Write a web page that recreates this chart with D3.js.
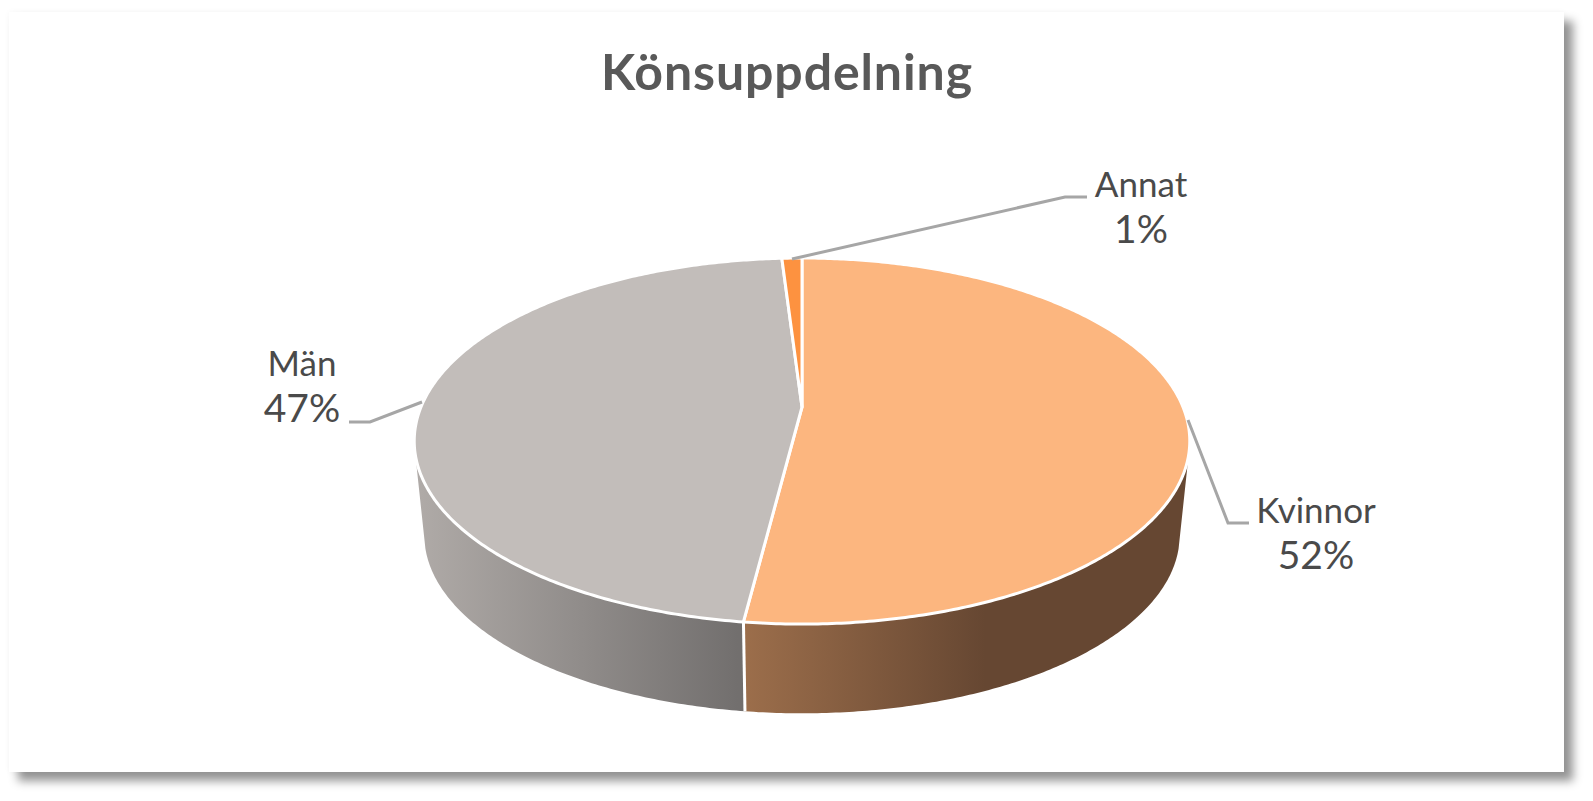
<!DOCTYPE html>
<html>
<head>
<meta charset="utf-8">
<script src="https://cdn.jsdelivr.net/npm/d3@7"></script>
<style>
  html, body { margin: 0; padding: 0; background: #fff; overflow: hidden; }
  #card { position: absolute; left: 9px; top: 12px; width: 1555px; height: 760px; background: #fff;
          box-shadow: 9px 9px 9px rgba(0,0,0,.42), 0 0 6px rgba(0,0,0,.04); }
  svg { position: absolute; left: 0; top: 0; }
  text { font-family: Lato, sans-serif; }
</style>
</head>
<body>
<div id="card"></div>
<div id="chart"></div>
<script>
// data
var categories = ["Kvinnor", "Män", "Annat"];
var values = [52, 47, 1];
var topColors = ["#fcb67f", "#c2bdba", "#fd9240"];
var title = "Könsuppdelning";

// label layout, same order as categories
var labelX = [1316, 302, 1141];
var labelY = [523, 376, 197];
var leaders = [
  [[1188, 420], [1228, 523], [1249, 523]],
  [[422, 402], [370, 422], [349, 422]],
  [[792, 259], [1065, 197], [1087, 197]]
];

var svgWidth = 1593;
var svgHeight = 801;

// tilted disc: apex sits above the middle of the ellipse because of perspective
var cx = 802, apexY = 407, spreadX = 381, spreadY = 101, persp = -0.186;
// bottom of the disc
var baseScale = 0.974, topMidY = 441, baseMidY = 535;
// part of the rim that faces the viewer
var rimStart = 105 * Math.PI / 180, rimEnd = 255 * Math.PI / 180;

function top3d(a) {
  var u = Math.sin(a), v = -Math.cos(a), d = 1 + persp * v;
  return [cx + spreadX * u / d, (apexY + spreadY * v) / d];
}
function base3d(a) {
  var p = top3d(a);
  return [cx + (p[0] - cx) * baseScale, baseMidY + (p[1] - topMidY) * baseScale];
}
function sample(a0, a1) {
  var n = Math.max(2, Math.ceil(Math.abs(a1 - a0) / 0.01));
  return d3.range(n + 1).map(i => a0 + (a1 - a0) * i / n);
}

var svg = d3.select("#chart").append("svg")
  .attr("width", svgWidth)
  .attr("height", svgHeight);

var defs = svg.append("defs");
var sideStops = [
  {id: "sideKvinnor", x1: top3d(Math.PI * 1.04)[0], x2: 985, from: "#9c6e4b", to: "#664732"},
  {id: "sideMan", x1: 420, x2: top3d(Math.PI * 1.04)[0], from: "#afaaa7", to: "#716e6d"}
];
sideStops.forEach(function(s) {
  var g = defs.append("linearGradient").attr("id", s.id)
    .attr("gradientUnits", "userSpaceOnUse")
    .attr("x1", s.x1).attr("x2", s.x2).attr("y1", 0).attr("y2", 0);
  g.append("stop").attr("offset", 0).attr("stop-color", s.from);
  g.append("stop").attr("offset", 1).attr("stop-color", s.to);
});
var sideFill = ["url(#sideKvinnor)", "url(#sideMan)", "#fd9240"];

var pie = d3.pie().sort(null);
var arcs = pie(values);
var line = d3.line();

// walls
var walls = svg.append("g");
arcs.forEach(function(d, i) {
  var a0 = Math.max(d.startAngle, rimStart), a1 = Math.min(d.endAngle, rimEnd);
  if (a1 <= a0) return;
  var pts = sample(a0, a1);
  walls.append("path")
    .attr("d", line(pts.map(top3d).concat(pts.slice().reverse().map(base3d))) + "Z")
    .attr("fill", sideFill[i]);
  // white divider where two slices meet on the rim
  if (d.startAngle > rimStart && d.startAngle < rimEnd) {
    walls.append("path")
      .attr("d", line([top3d(d.startAngle), base3d(d.startAngle)]))
      .attr("stroke", "#fff").attr("stroke-width", 3).attr("fill", "none");
  }
});

// top face
svg.append("g").selectAll("path")
  .data(arcs)
  .enter()
  .append("path")
  .attr("d", d => line([[cx, apexY]].concat(sample(d.startAngle, d.endAngle).map(top3d))) + "Z")
  .attr("fill", (d, i) => topColors[i])
  .attr("stroke", "#fff")
  .attr("stroke-width", 3)
  .attr("stroke-linejoin", "round");

// leader lines
svg.append("g").selectAll("path")
  .data(leaders)
  .enter()
  .append("path")
  .attr("d", d => line(d))
  .attr("fill", "none")
  .attr("stroke", "#a6a6a6")
  .attr("stroke-width", 3);

// labels
var labels = svg.append("g").selectAll("text")
  .data(categories)
  .enter()
  .append("text")
  .attr("text-anchor", "middle")
  .attr("fill", "#4a4a4a");
labels.append("tspan")
  .attr("x", (d, i) => labelX[i])
  .attr("y", (d, i) => labelY[i])
  .attr("font-size", 35)
  .text(d => d);
labels.append("tspan")
  .attr("x", (d, i) => labelX[i])
  .attr("y", (d, i) => labelY[i] + 46)
  .attr("font-size", 39)
  .text((d, i) => values[i] + "%");

svg.append("text")
  .attr("x", 787)
  .attr("y", 90)
  .attr("text-anchor", "middle")
  .attr("font-size", 50)
  .attr("font-weight", 700)
  .attr("letter-spacing", 0.9)
  .attr("fill", "#595959")
  .text(title);
</script>
</body>
</html>
